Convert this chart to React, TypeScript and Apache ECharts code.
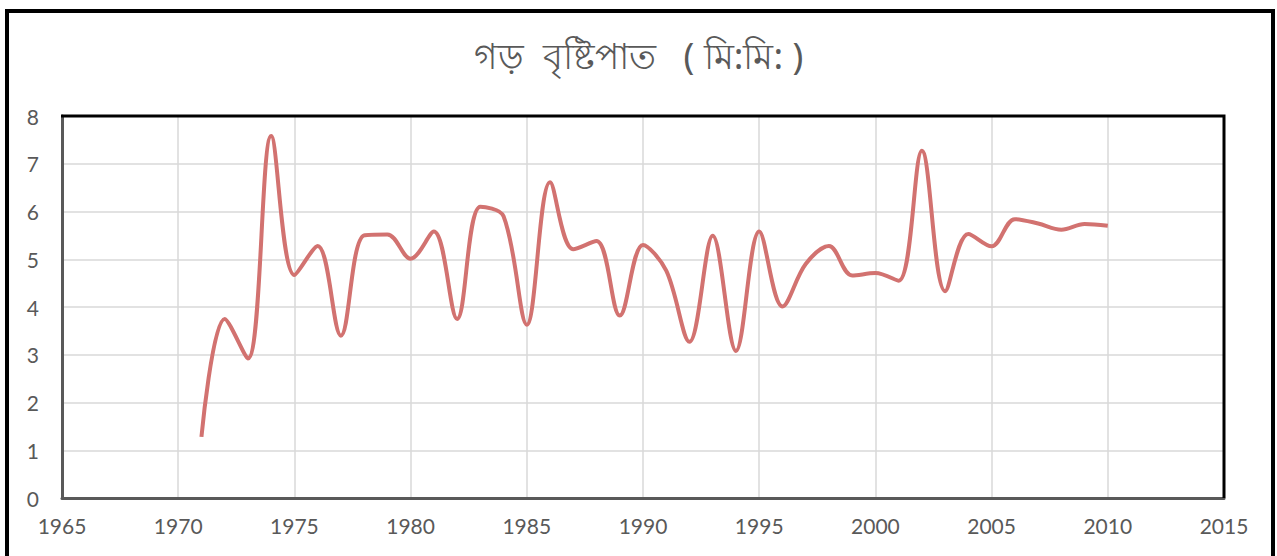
import React, { useEffect, useRef } from "react";
import * as echarts from "echarts";

const TITLE = "গড়  বৃষ্টিপাত   ( মি:মি: )";
const years = [
  1971, 1972, 1973, 1974, 1975, 1976, 1977, 1978, 1979, 1980,
  1981, 1982, 1983, 1984, 1985, 1986, 1987, 1988, 1989, 1990,
  1991, 1992, 1993, 1994, 1995, 1996, 1997, 1998, 1999, 2000,
  2001, 2002, 2003, 2004, 2005, 2006, 2007, 2008, 2009, 2010,
];
const rainfall = [
  1.28, 3.75, 2.92, 7.58, 4.67, 5.28, 3.4, 5.5, 5.52, 5.01,
  5.58, 3.75, 6.1, 5.9, 3.63, 6.61, 5.21, 5.38, 3.82, 5.3,
  4.76, 3.27, 5.49, 3.08, 5.58, 4.01, 4.9, 5.28, 4.66, 4.71,
  4.55, 7.27, 4.33, 5.53, 5.27, 5.84, 5.75, 5.62, 5.74, 5.7,
];
const xMin = 1965;
const xMax = 2015;
const xStep = 5;
const yMin = 0;
const yMax = 8;
const yStep = 1;

export default function App() {
  const ref = useRef<HTMLDivElement>(null);
  useEffect(() => {
    if (!ref.current) return;
    const chart = echarts.init(ref.current, null, { renderer: "svg" });
    const font = "Lato, 'Noto Sans', sans-serif";
    chart.setOption({
      animation: false,
      backgroundColor: "#ffffff",
      title: {
        text: TITLE,
        left: "center",
        top: 32,
        textStyle: {
          color: "#595959",
          fontSize: 36,
          fontWeight: "normal",
          fontFamily: "'Noto Sans', sans-serif",
        },
      },
      graphic: [
        {
          type: "rect",
          shape: { x: 7, y: 11, width: 1266, height: 620 },
          style: { fill: "none", stroke: "#000000", lineWidth: 4 },
          silent: true,
          z: 100,
        },
        {
          type: "polyline",
          shape: { points: [[61, 116], [1224, 116], [1224, 498]] },
          style: { fill: "none", stroke: "#000000", lineWidth: 3 },
          silent: true,
          z: 100,
        },
      ],
      grid: {
        left: 62,
        right: 53,
        top: 116,
        bottom: 58,
        show: false,
      },
      xAxis: {
        type: "value",
        min: xMin,
        max: xMax,
        interval: xStep,
        axisLine: { show: true, onZero: false, lineStyle: { color: "#595959", width: 3 } },
        axisTick: { show: false },
        axisLabel: {
          color: "#595959",
          fontSize: 21,
          fontFamily: font,
          margin: 17,
          formatter: (v: number) => String(v),
        },
        splitLine: { show: true, lineStyle: { color: "#d9d9d9", width: 1.5 } },
      },
      yAxis: {
        type: "value",
        min: yMin,
        max: yMax,
        interval: yStep,
        axisLine: { show: true, lineStyle: { color: "#595959", width: 3 } },
        axisTick: { show: false },
        axisLabel: {
          color: "#595959",
          fontSize: 21,
          fontFamily: font,
          margin: 23,
        },
        splitLine: { show: true, lineStyle: { color: "#d9d9d9", width: 1.5 } },
      },
      series: [
        {
          type: "line",
          data: years.map((y, i) => [y, rainfall[i]]),
          smooth: 0.35,
          showSymbol: false,
          lineStyle: { color: "#d27270", width: 4 },
        },
      ],
    });
    return () => chart.dispose();
  }, []);
  return (
    <div
      ref={ref}
      style={{ position: "absolute", left: 0, top: 0, width: 1277, height: 556 }}
    />
  );
}
